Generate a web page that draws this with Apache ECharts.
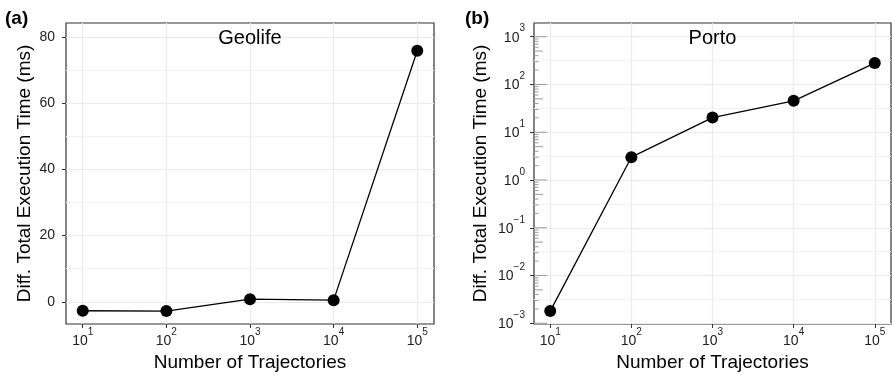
<!DOCTYPE html>
<html>
<head>
<meta charset="utf-8">
<script src="https://cdn.jsdelivr.net/npm/echarts@6/dist/echarts.min.js"></script>
<style>
  html, body { margin: 0; padding: 0; background: #fff; }
  #chart { width: 892px; height: 377px; }
</style>
</head>
<body>
<div id="chart"></div>
<script>
// number of trajectories (x, log scale)
const trajectories = [10, 100, 1000, 10000, 100000];
// Geolife: diff. total execution time (ms)
const geolifeDiff = [-2.7, -2.8, 0.8, 0.5, 75.8];
// Porto: diff. total execution time (ms), log scale
const portoDiff = [0.0018, 3.0, 20.3, 45.5, 281];

// tick / grid positions
const geolifeMajor = [0, 20, 40, 60, 80];
const geolifeMinor = [10, 30, 50, 70];
const portoMajor = [1e-3, 1e-2, 1e-1, 1, 10, 100, 1000];
const portoMinor = [-2.5, -1.5, -0.5, 0.5, 1.5, 2.5].map(e => Math.pow(10, e));

// log ticks drawn inside the left edge of the Porto panel (1..9 x 10^k)
const portoLogTicks = [];
for (let k = -3; k <= 2; k++) {
  for (let m = 1; m <= 9; m++) portoLogTicks.push(m * Math.pow(10, k));
}
portoLogTicks.push(1000);

const FONT = '"Liberation Sans", Arial, Helvetica, sans-serif';
const LABEL_COLOR = '#222';
const GRID_MAJOR = '#ebebeb';
const GRID_MINOR = '#f2f2f2';

const supRich = {
  b: { fontSize: 14, lineHeight: 16, verticalAlign: 'bottom', color: LABEL_COLOR, fontFamily: FONT },
  s: { fontSize: 10, lineHeight: 10, padding: [0, 0, 11, 0], verticalAlign: 'bottom', color: LABEL_COLOR, fontFamily: FONT }
};
function powLabel(v) {
  const e = Math.round(Math.log10(v));
  return '{b|10}{s|' + String(e).replace('-', '\u2212') + '}';
}

function xAxisFor(gridIndex) {
  return {
    type: 'log',
    gridIndex: gridIndex,
    min: Math.pow(10, 0.8),
    max: Math.pow(10, 5.2),
    name: 'Number of Trajectories',
    nameLocation: 'middle',
    nameGap: 29,
    nameTextStyle: { fontSize: 19, color: '#000', fontFamily: FONT },
    axisLine: { show: false, onZero: false },
    axisTick: { show: true, length: 4, customValues: trajectories, lineStyle: { color: '#333', width: 1 } },
    axisLabel: { customValues: trajectories, margin: 8, formatter: powLabel, rich: supRich },
    splitLine: { show: true, lineStyle: { color: GRID_MAJOR, width: 1.2 } }
  };
}

let chart = echarts.init(document.getElementById('chart'));
chart.setOption({
  backgroundColor: '#fff',
  animation: false,
  title: [
    { text: '(a)', left: 5, top: 9, padding: 0, textStyle: { fontSize: 19, fontWeight: 'bold', color: '#000', fontFamily: FONT } },
    { text: '(b)', left: 465, top: 9, padding: 0, textStyle: { fontSize: 19, fontWeight: 'bold', color: '#000', fontFamily: FONT } },
    { text: 'Geolife', left: 250, top: 28, padding: 0, textAlign: 'center', textStyle: { fontSize: 20, fontWeight: 'normal', color: '#000', fontFamily: FONT } },
    { text: 'Porto', left: 712.5, top: 28, padding: 0, textAlign: 'center', textStyle: { fontSize: 20, fontWeight: 'normal', color: '#000', fontFamily: FONT } }
  ],
  grid: [
    { left: 66, top: 23, right: 458, bottom: 53, show: true, borderColor: '#333', borderWidth: 1.2, backgroundColor: 'transparent' },
    { left: 534, top: 23, right: 1, bottom: 53, show: true, borderColor: '#333', borderWidth: 1.2, backgroundColor: 'transparent' }
  ],
  xAxis: [xAxisFor(0), xAxisFor(1)],
  yAxis: [
    {
      type: 'value', gridIndex: 0, min: -6.7, max: 84.2,
      name: 'Diff. Total Execution Time (ms)',
      nameLocation: 'middle', nameGap: 32,
      nameTextStyle: { fontSize: 19, color: '#000', fontFamily: FONT },
      axisLine: { show: false, onZero: false },
      axisTick: { show: true, length: 4, customValues: geolifeMajor, lineStyle: { color: '#333', width: 1 } },
      axisLabel: { customValues: geolifeMajor, margin: 11, fontSize: 14, color: LABEL_COLOR, fontFamily: FONT },
      splitLine: { show: true, lineStyle: { color: GRID_MAJOR, width: 1.2 } }
    },
    {
      type: 'value', gridIndex: 0, min: -6.7, max: 84.2, position: 'left',
      axisLine: { show: false, onZero: false },
      axisTick: { show: false, customValues: geolifeMinor },
      axisLabel: { show: false },
      splitLine: { show: true, lineStyle: { color: GRID_MINOR, width: 1 } }
    },
    {
      type: 'log', gridIndex: 1, min: Math.pow(10, -3.015), max: Math.pow(10, 3.287),
      name: 'Diff. Total Execution Time (ms)',
      nameLocation: 'middle', nameGap: 44,
      nameTextStyle: { fontSize: 19, color: '#000', fontFamily: FONT },
      axisLine: { show: false, onZero: false },
      axisTick: { show: true, length: 4, customValues: portoMajor, lineStyle: { color: '#333', width: 1 } },
      axisLabel: { customValues: portoMajor, margin: 9, formatter: powLabel, rich: supRich },
      splitLine: { show: true, lineStyle: { color: GRID_MAJOR, width: 1.2 } }
    },
    {
      type: 'log', gridIndex: 1, min: Math.pow(10, -3.015), max: Math.pow(10, 3.287), position: 'left',
      axisLine: { show: false, onZero: false },
      axisTick: { show: false, customValues: portoMinor },
      axisLabel: { show: false },
      splitLine: { show: true, lineStyle: { color: GRID_MINOR, width: 1 } }
    }
  ],
  series: [
    {
      name: 'Geolife', type: 'line', xAxisIndex: 0, yAxisIndex: 0,
      data: trajectories.map((x, i) => [x, geolifeDiff[i]]),
      symbol: 'circle', symbolSize: 12,
      itemStyle: { color: '#000' },
      lineStyle: { color: '#000', width: 1.3 },
      z: 5
    },
    {
      name: 'Porto', type: 'line', xAxisIndex: 1, yAxisIndex: 2,
      data: trajectories.map((x, i) => [x, portoDiff[i]]),
      symbol: 'circle', symbolSize: 12,
      itemStyle: { color: '#000' },
      lineStyle: { color: '#000', width: 1.3 },
      z: 5
    },
    {
      // annotation log ticks on the left side of the Porto panel
      type: 'custom', xAxisIndex: 1, yAxisIndex: 2, silent: true, z: 3,
      data: portoLogTicks.map(v => [trajectories[0], v]),
      renderItem: function (params, api) {
        const v = api.value(1);
        const y = api.coord([api.value(0), v])[1];
        const x0 = params.coordSys.x;
        const m = Math.round(v / Math.pow(10, Math.floor(Math.log10(v) + 1e-9)));
        const len = m === 1 ? 13 : (m === 5 ? 9 : 4.5);
        return {
          type: 'line',
          shape: { x1: x0, y1: y, x2: x0 + len, y2: y },
          style: { stroke: '#9a9a9a', lineWidth: 1 }
        };
      }
    }
  ]
});
</script>
</body>
</html>
